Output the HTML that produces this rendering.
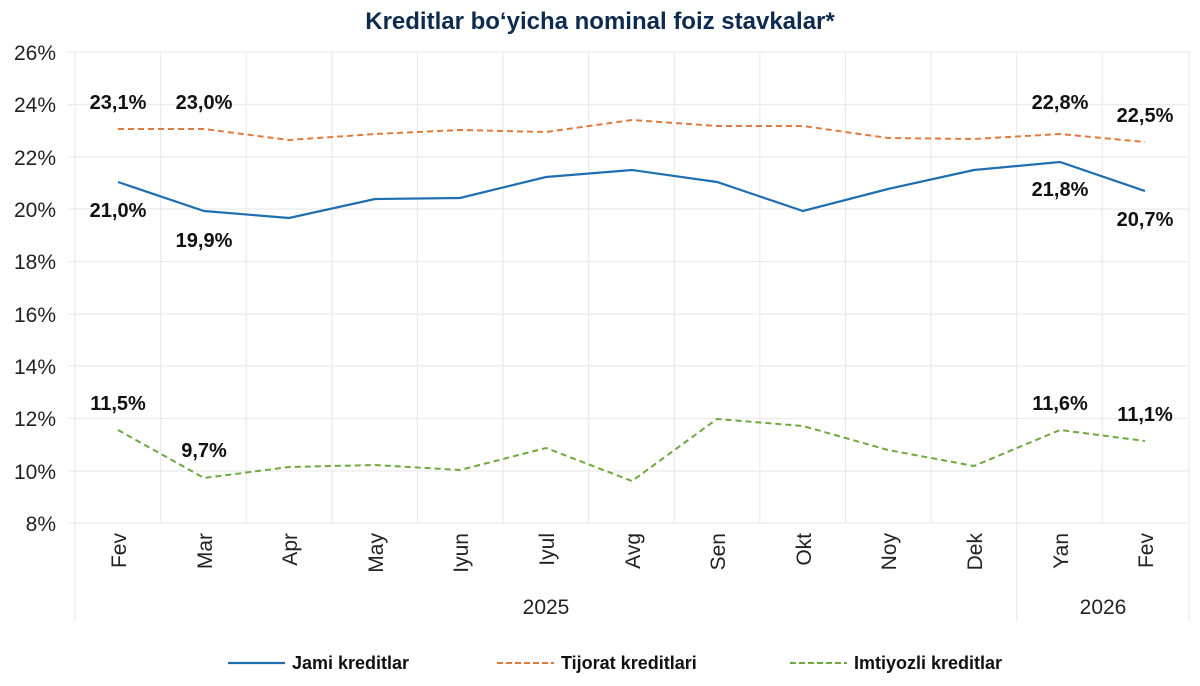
<!DOCTYPE html>
<html><head><meta charset="utf-8"><style>
body{margin:0;background:#fff;}
svg{display:block;font-family:"Liberation Sans",Arial,sans-serif;}
</style></head><body>
<svg width="1200" height="686" viewBox="0 0 1200 686">
<text x="600" y="29" text-anchor="middle" font-size="24" font-weight="bold" fill="#0d2a4f">Kreditlar bo‘yicha nominal foiz stavkalar*</text>
<g stroke="#ebebeb" stroke-width="1.3">
<line x1="68" y1="52" x2="1189" y2="52"/><line x1="68" y1="104.5" x2="1189" y2="104.5"/><line x1="68" y1="157" x2="1189" y2="157"/><line x1="68" y1="209" x2="1189" y2="209"/><line x1="68" y1="261.5" x2="1189" y2="261.5"/><line x1="68" y1="314" x2="1189" y2="314"/><line x1="68" y1="366" x2="1189" y2="366"/><line x1="68" y1="418.5" x2="1189" y2="418.5"/><line x1="68" y1="471" x2="1189" y2="471"/><line x1="68" y1="523" x2="1189" y2="523"/>
<line x1="75" y1="52" x2="75" y2="621"/><line x1="160.6" y1="52" x2="160.6" y2="523"/><line x1="246.2" y1="52" x2="246.2" y2="523"/><line x1="331.8" y1="52" x2="331.8" y2="523"/><line x1="417.4" y1="52" x2="417.4" y2="523"/><line x1="503" y1="52" x2="503" y2="523"/><line x1="588.6" y1="52" x2="588.6" y2="523"/><line x1="674.2" y1="52" x2="674.2" y2="523"/><line x1="759.8" y1="52" x2="759.8" y2="523"/><line x1="845.4" y1="52" x2="845.4" y2="523"/><line x1="931" y1="52" x2="931" y2="523"/><line x1="1016.6" y1="52" x2="1016.6" y2="621"/><line x1="1102.2" y1="52" x2="1102.2" y2="523"/><line x1="1189" y1="52" x2="1189" y2="621"/>
</g>
<g font-size="21" fill="#222" text-anchor="end">
<text x="56" y="60">26%</text><text x="56" y="112">24%</text><text x="56" y="165">22%</text><text x="56" y="217">20%</text><text x="56" y="269">18%</text><text x="56" y="322">16%</text><text x="56" y="374">14%</text><text x="56" y="426">12%</text><text x="56" y="479">10%</text><text x="56" y="531">8%</text>
</g>
<g font-size="21" fill="#222" text-anchor="end">
<text transform="translate(126,533) rotate(-90)">Fev</text>
<text transform="translate(212,533) rotate(-90)">Mar</text>
<text transform="translate(297,533) rotate(-90)">Apr</text>
<text transform="translate(383,533) rotate(-90)">May</text>
<text transform="translate(468,533) rotate(-90)">Iyun</text>
<text transform="translate(554,533) rotate(-90)">Iyul</text>
<text transform="translate(640,533) rotate(-90)">Avg</text>
<text transform="translate(725,533) rotate(-90)">Sen</text>
<text transform="translate(811,533) rotate(-90)">Okt</text>
<text transform="translate(896,533) rotate(-90)">Noy</text>
<text transform="translate(982,533) rotate(-90)">Dek</text>
<text transform="translate(1068,533) rotate(-90)">Yan</text>
<text transform="translate(1153,533) rotate(-90)">Fev</text>
</g>
<g font-size="21" fill="#222" text-anchor="middle">
<text x="546" y="614">2025</text><text x="1103" y="614">2026</text>
</g>
<polyline fill="none" stroke="#e07a3c" stroke-width="2" stroke-dasharray="6,4" points="118,129 204,129 289,140 375,134 460,130 546,132 632,120 717,126 803,126 888,138 974,139 1060,134 1145,142"/>
<polyline fill="none" stroke="#1f6fb0" stroke-width="2.2" points="118,182 204,211 289,218 375,199 460,198 546,177 632,170 717,182 803,211 888,189 974,170 1060,162 1145,191"/>
<polyline fill="none" stroke="#6ea83f" stroke-width="2" stroke-dasharray="6,4" points="118,430 204,478 289,467 375,465 460,470 546,448 632,481 717,419 803,426 888,450 974,466 1060,430 1145,441"/>
<g font-size="20" font-weight="bold" fill="#111" text-anchor="middle">
<text x="118" y="109">23,1%</text><text x="204" y="109">23,0%</text><text x="1060" y="109">22,8%</text><text x="1145" y="122">22,5%</text>
<text x="118" y="217">21,0%</text><text x="204" y="247">19,9%</text><text x="1060" y="196">21,8%</text><text x="1145" y="226">20,7%</text>
<text x="118" y="410">11,5%</text><text x="204" y="457">9,7%</text><text x="1060" y="410">11,6%</text><text x="1145" y="421">11,1%</text>
</g>
<g font-size="18" font-weight="bold" fill="#111">
<line x1="228" y1="663" x2="285" y2="663" stroke="#1f6fb0" stroke-width="2.2"/><text x="292" y="669">Jami kreditlar</text>
<line x1="497" y1="663" x2="554" y2="663" stroke="#e07a3c" stroke-width="2" stroke-dasharray="6,3"/><text x="561" y="669">Tijorat kreditlari</text>
<line x1="790" y1="663" x2="847" y2="663" stroke="#6ea83f" stroke-width="2" stroke-dasharray="6,3"/><text x="854" y="669">Imtiyozli kreditlar</text>
</g>
</svg>
</body></html>
